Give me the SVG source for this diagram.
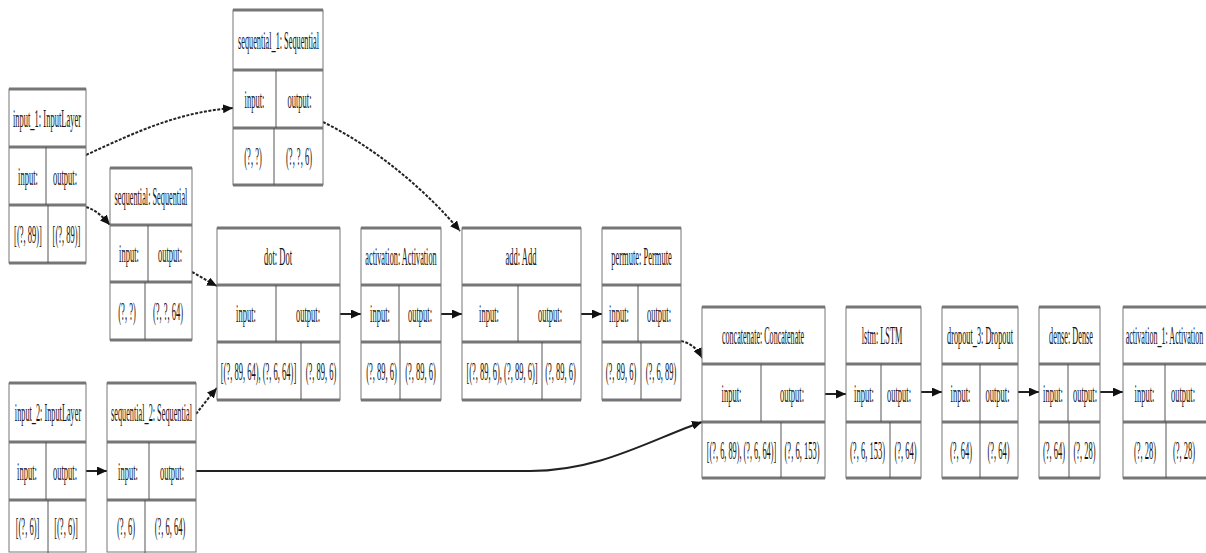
<svg xmlns="http://www.w3.org/2000/svg" width="1206" height="553" viewBox="0 0 1206 553">
<style>
.box{fill:#fff;stroke:#777;stroke-width:1}
.sep{stroke:#767676;stroke-width:3}
.div{stroke:#555;stroke-width:1}
text{font-family:"Liberation Serif","Times New Roman",serif;font-size:26px;fill:#151515;text-anchor:middle;dominant-baseline:central}
.edge{fill:none;stroke:#222;stroke-width:2;marker-end:url(#arr)}
.dash{stroke-dasharray:3 1.5}
</style>
<defs>
<marker id="arr" markerUnits="userSpaceOnUse" markerWidth="10" markerHeight="9" refX="10" refY="4.5" orient="auto"><path d="M0,0 L10,4.5 L0,9 z" fill="#111"/></marker>
</defs>
<g id="connectors">
<path class="edge dash" d="M86,155 C140,130 180,112 233,108"/>
<path class="edge dash" d="M86,207 C96,210 102,216 110,225"/>
<path class="edge dash" d="M192,272 C200,276 207,281 217,286"/>
<path class="edge dash" d="M196,414 C203,405 210,396 217,388"/>
<path class="edge" d="M86,471 L107,471"/>
<path class="edge" d="M196,471 L530,471 C600,471 650,440 702,422"/>
<path class="edge dash" d="M323,122 C380,150 430,195 460,231"/>
<path class="edge" d="M340,314 L361,314"/>
<path class="edge" d="M441,314 L462,314"/>
<path class="edge" d="M581,314 L602,314"/>
<path class="edge dash" d="M681,341 C690,343 697,348 702,358"/>
<path class="edge" d="M825,394 L846,394"/>
<path class="edge" d="M921,392 L942,392"/>
<path class="edge" d="M1018,392 L1039,392"/>
<path class="edge" d="M1100,392 L1123,392"/>
</g>
<g id="input_1">
<rect class="box" x="9" y="89" width="77" height="174"/>
<line class="sep" x1="9" y1="89" x2="86" y2="89"/><line class="sep" x1="9" y1="147" x2="86" y2="147"/><line class="sep" x1="9" y1="205" x2="86" y2="205"/><line class="sep" x1="9" y1="263" x2="86" y2="263"/>
<line class="div" x1="46" y1="147" x2="46" y2="205"/><line class="div" x1="48" y1="205" x2="48" y2="263"/>
<text transform="translate(47 118) scale(.327 1)">input_1: InputLayer</text>
<text transform="translate(28 176) scale(.327 1)">input:</text>
<text transform="translate(65 176) scale(.327 1)">output:</text>
<text transform="translate(28 234) scale(.327 1)">[(?, 89)]</text>
<text transform="translate(66.5 234) scale(.327 1)">[(?, 89)]</text>
</g>
<g id="sequential_1">
<rect class="box" x="233" y="10" width="90" height="175"/>
<line class="sep" x1="233" y1="10" x2="323" y2="10"/><line class="sep" x1="233" y1="70" x2="323" y2="70"/><line class="sep" x1="233" y1="128" x2="323" y2="128"/><line class="sep" x1="233" y1="185" x2="323" y2="185"/>
<line class="div" x1="276" y1="70" x2="276" y2="128"/><line class="div" x1="274" y1="128" x2="274" y2="185"/>
<text transform="translate(278.5 40) scale(.318 1)">sequential_1: Sequential</text>
<text transform="translate(254.5 99) scale(.327 1)">input:</text>
<text transform="translate(299.5 99) scale(.327 1)">output:</text>
<text transform="translate(253 156.5) scale(.327 1)">(?, ?)</text>
<text transform="translate(299 156.5) scale(.327 1)">(?, ?, 6)</text>
</g>
<g id="sequential">
<rect class="box" x="110" y="168" width="82" height="172"/>
<line class="sep" x1="110" y1="168" x2="192" y2="168"/><line class="sep" x1="110" y1="225" x2="192" y2="225"/><line class="sep" x1="110" y1="282" x2="192" y2="282"/><line class="sep" x1="110" y1="340" x2="192" y2="340"/>
<line class="div" x1="148" y1="225" x2="148" y2="282"/><line class="div" x1="145" y1="282" x2="145" y2="340"/>
<text transform="translate(151 196.5) scale(.318 1)">sequential: Sequential</text>
<text transform="translate(129 253.5) scale(.327 1)">input:</text>
<text transform="translate(170 253.5) scale(.327 1)">output:</text>
<text transform="translate(127 311) scale(.327 1)">(?, ?)</text>
<text transform="translate(168 311) scale(.327 1)">(?, ?, 64)</text>
</g>
<g id="input_2">
<rect class="box" x="9" y="383" width="77" height="169"/>
<line class="sep" x1="9" y1="383" x2="86" y2="383"/><line class="sep" x1="9" y1="442" x2="86" y2="442"/><line class="sep" x1="9" y1="500" x2="86" y2="500"/>
<line class="div" x1="46" y1="442" x2="46" y2="500"/><line class="div" x1="48" y1="500" x2="48" y2="553"/>
<text transform="translate(48 412.5) scale(.318 1)">input_2: InputLayer</text>
<text transform="translate(27 471) scale(.327 1)">input:</text>
<text transform="translate(65 471) scale(.327 1)">output:</text>
<text transform="translate(27.5 526) scale(.327 1)">[(?, 6)]</text>
<text transform="translate(66 526) scale(.327 1)">[(?, 6)]</text>
</g>
<g id="sequential_2">
<rect class="box" x="107" y="383" width="89" height="169"/>
<line class="sep" x1="107" y1="383" x2="196" y2="383"/><line class="sep" x1="107" y1="442" x2="196" y2="442"/><line class="sep" x1="107" y1="500" x2="196" y2="500"/>
<line class="div" x1="149" y1="442" x2="149" y2="500"/><line class="div" x1="145" y1="500" x2="145" y2="553"/>
<text transform="translate(151.5 412.5) scale(.318 1)">sequential_2: Sequential</text>
<text transform="translate(128 471) scale(.327 1)">input:</text>
<text transform="translate(172 471) scale(.327 1)">output:</text>
<text transform="translate(126 526) scale(.327 1)">(?, 6)</text>
<text transform="translate(170 526) scale(.327 1)">(?, 6, 64)</text>
</g>
<g id="dot">
<rect class="box" x="217" y="228" width="123" height="172"/>
<line class="sep" x1="217" y1="228" x2="340" y2="228"/><line class="sep" x1="217" y1="285" x2="340" y2="285"/><line class="sep" x1="217" y1="342" x2="340" y2="342"/><line class="sep" x1="217" y1="400" x2="340" y2="400"/>
<line class="div" x1="276" y1="285" x2="276" y2="342"/><line class="div" x1="301" y1="342" x2="301" y2="400"/>
<text transform="translate(278 256.5) scale(.327 1)">dot: Dot</text>
<text transform="translate(246 313.5) scale(.327 1)">input:</text>
<text transform="translate(308 313.5) scale(.327 1)">output:</text>
<text transform="translate(258.5 371) scale(.327 1)">[(?, 89, 64), (?, 6, 64)]</text>
<text transform="translate(321 371) scale(.327 1)">(?, 89, 6)</text>
</g>
<g id="activation">
<rect class="box" x="361" y="228" width="80" height="172"/>
<line class="sep" x1="361" y1="228" x2="441" y2="228"/><line class="sep" x1="361" y1="285" x2="441" y2="285"/><line class="sep" x1="361" y1="342" x2="441" y2="342"/><line class="sep" x1="361" y1="400" x2="441" y2="400"/>
<line class="div" x1="399" y1="285" x2="399" y2="342"/><line class="div" x1="400" y1="342" x2="400" y2="400"/>
<text transform="translate(401 256.5) scale(.318 1)">activation: Activation</text>
<text transform="translate(380 313.5) scale(.327 1)">input:</text>
<text transform="translate(420 313.5) scale(.327 1)">output:</text>
<text transform="translate(381.5 371) scale(.327 1)">(?, 89, 6)</text>
<text transform="translate(420.5 371) scale(.327 1)">(?, 89, 6)</text>
</g>
<g id="add">
<rect class="box" x="462" y="228" width="119" height="172"/>
<line class="sep" x1="462" y1="228" x2="581" y2="228"/><line class="sep" x1="462" y1="285" x2="581" y2="285"/><line class="sep" x1="462" y1="342" x2="581" y2="342"/><line class="sep" x1="462" y1="400" x2="581" y2="400"/>
<line class="div" x1="518" y1="285" x2="518" y2="342"/><line class="div" x1="542" y1="342" x2="542" y2="400"/>
<text transform="translate(521 256.5) scale(.327 1)">add: Add</text>
<text transform="translate(489 313.5) scale(.327 1)">input:</text>
<text transform="translate(550 313.5) scale(.327 1)">output:</text>
<text transform="translate(502 371) scale(.327 1)">[(?, 89, 6), (?, 89, 6)]</text>
<text transform="translate(560.5 371) scale(.327 1)">(?, 89, 6)</text>
</g>
<g id="permute">
<rect class="box" x="602" y="228" width="79" height="172"/>
<line class="sep" x1="602" y1="228" x2="681" y2="228"/><line class="sep" x1="602" y1="285" x2="681" y2="285"/><line class="sep" x1="602" y1="342" x2="681" y2="342"/><line class="sep" x1="602" y1="400" x2="681" y2="400"/>
<line class="div" x1="638" y1="285" x2="638" y2="342"/><line class="div" x1="641" y1="342" x2="641" y2="400"/>
<text transform="translate(641.5 256.5) scale(.327 1)">permute: Permute</text>
<text transform="translate(619 313.5) scale(.327 1)">input:</text>
<text transform="translate(659 313.5) scale(.327 1)">output:</text>
<text transform="translate(621 371) scale(.327 1)">(?, 89, 6)</text>
<text transform="translate(661 371) scale(.327 1)">(?, 6, 89)</text>
</g>
<g id="concatenate">
<rect class="box" x="702" y="307" width="123" height="171"/>
<line class="sep" x1="702" y1="307" x2="825" y2="307"/><line class="sep" x1="702" y1="364" x2="825" y2="364"/><line class="sep" x1="702" y1="422" x2="825" y2="422"/><line class="sep" x1="702" y1="478" x2="825" y2="478"/>
<line class="div" x1="761" y1="364" x2="761" y2="422"/><line class="div" x1="781" y1="422" x2="781" y2="478"/>
<text transform="translate(763 335.5) scale(.31 1)">concatenate: Concatenate</text>
<text transform="translate(731.5 393) scale(.327 1)">input:</text>
<text transform="translate(792 393) scale(.327 1)">output:</text>
<text transform="translate(741.5 450) scale(.318 1)">[(?, 6, 89), (?, 6, 64)]</text>
<text transform="translate(802 450) scale(.327 1)">(?, 6, 153)</text>
</g>
<g id="lstm">
<rect class="box" x="846" y="307" width="75" height="171"/>
<line class="sep" x1="846" y1="307" x2="921" y2="307"/><line class="sep" x1="846" y1="364" x2="921" y2="364"/><line class="sep" x1="846" y1="422" x2="921" y2="422"/><line class="sep" x1="846" y1="478" x2="921" y2="478"/>
<line class="div" x1="881" y1="364" x2="881" y2="422"/><line class="div" x1="890" y1="422" x2="890" y2="478"/>
<text transform="translate(882 335.5) scale(.318 1)">lstm: LSTM</text>
<text transform="translate(864 393) scale(.327 1)">input:</text>
<text transform="translate(899 393) scale(.327 1)">output:</text>
<text transform="translate(867.5 450) scale(.327 1)">(?, 6, 153)</text>
<text transform="translate(905.5 450) scale(.327 1)">(?, 64)</text>
</g>
<g id="dropout_3">
<rect class="box" x="942" y="307" width="76" height="171"/>
<line class="sep" x1="942" y1="307" x2="1018" y2="307"/><line class="sep" x1="942" y1="364" x2="1018" y2="364"/><line class="sep" x1="942" y1="422" x2="1018" y2="422"/><line class="sep" x1="942" y1="478" x2="1018" y2="478"/>
<line class="div" x1="980" y1="364" x2="980" y2="422"/><line class="div" x1="980" y1="422" x2="980" y2="478"/>
<text transform="translate(980 335.5) scale(.318 1)">dropout_3: Dropout</text>
<text transform="translate(960.5 393) scale(.327 1)">input:</text>
<text transform="translate(997.5 393) scale(.327 1)">output:</text>
<text transform="translate(961 450) scale(.327 1)">(?, 64)</text>
<text transform="translate(998.5 450) scale(.327 1)">(?, 64)</text>
</g>
<g id="dense">
<rect class="box" x="1039" y="307" width="61" height="171"/>
<line class="sep" x1="1039" y1="307" x2="1100" y2="307"/><line class="sep" x1="1039" y1="364" x2="1100" y2="364"/><line class="sep" x1="1039" y1="422" x2="1100" y2="422"/><line class="sep" x1="1039" y1="478" x2="1100" y2="478"/>
<line class="div" x1="1068" y1="364" x2="1068" y2="422"/><line class="div" x1="1069" y1="422" x2="1069" y2="478"/>
<text transform="translate(1071 335.5) scale(.318 1)">dense: Dense</text>
<text transform="translate(1053 393) scale(.327 1)">input:</text>
<text transform="translate(1085 393) scale(.327 1)">output:</text>
<text transform="translate(1054 450) scale(.327 1)">(?, 64)</text>
<text transform="translate(1084.5 450) scale(.327 1)">(?, 28)</text>
</g>
<g id="activation_1">
<rect class="box" x="1123" y="307" width="90" height="171"/>
<line class="sep" x1="1123" y1="307" x2="1213" y2="307"/><line class="sep" x1="1123" y1="364" x2="1213" y2="364"/><line class="sep" x1="1123" y1="422" x2="1213" y2="422"/><line class="sep" x1="1123" y1="478" x2="1213" y2="478"/>
<line class="div" x1="1165" y1="364" x2="1165" y2="422"/><line class="div" x1="1166" y1="422" x2="1166" y2="478"/>
<text transform="translate(1164.5 335.5) scale(.31 1)">activation_1: Activation</text>
<text transform="translate(1144.5 393) scale(.327 1)">input:</text>
<text transform="translate(1183 393) scale(.327 1)">output:</text>
<text transform="translate(1145 450) scale(.327 1)">(?, 28)</text>
<text transform="translate(1184 450) scale(.327 1)">(?, 28)</text>
</g>
</svg>
